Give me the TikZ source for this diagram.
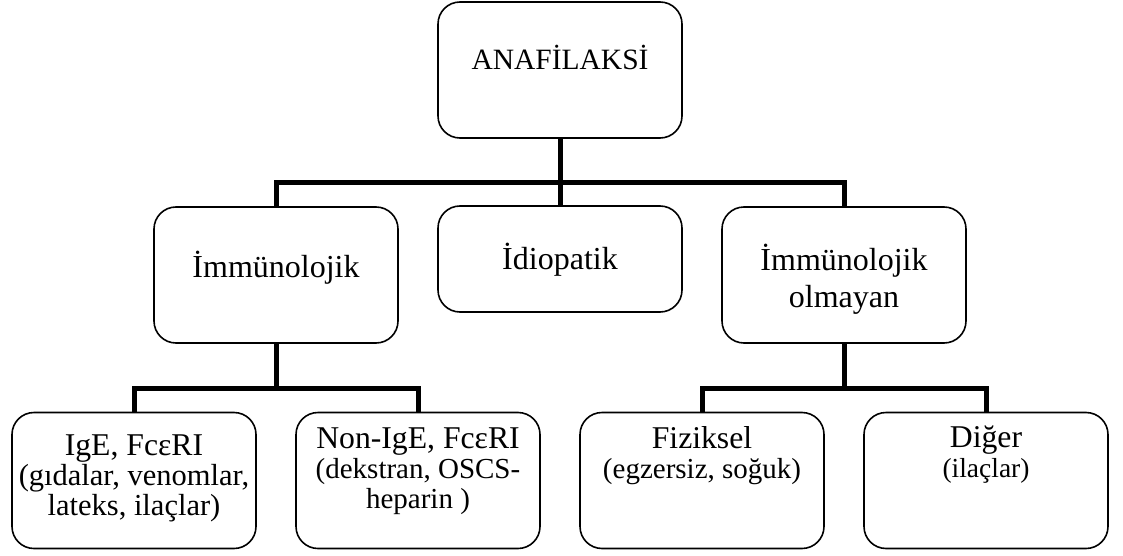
\documentclass[tikz,border=0pt]{standalone}
\usepackage{fontspec}
\setmainfont{Liberation Serif}
\usetikzlibrary{positioning}
\newcommand{\headline}[2][31.7]{{\fontsize{#1}{30}\selectfont #2}}

\begin{document}
\begin{tikzpicture}[x=1pt, y=-1pt,
    box/.style={draw, line width=1.6pt, rounded corners=22pt, minimum width=244pt, minimum height=136pt, inner sep=0pt},
    link/.style={line width=5pt},
    txt/.style={align=center, inner sep=0pt, anchor=base, font=\fontsize{32}{37}\selectfont},
    subtxt/.style={txt, font=\fontsize{#1}{30}\selectfont}]
    \useasboundingbox (0,0) rectangle (1123,556);
    % boxes
    \node[box] (ana) at (560,70) {};
    \node[box] (imm) at (276,275) {};
    \node[box, minimum height=106pt] (idio) at (560,259) {};
    \node[box] (nonimm) at (844,275) {};
    \node[box] (ige) at (134,480.5) {};
    \node[box] (nonige) at (418,480.5) {};
    \node[box] (fiz) at (702,480.5) {};
    \node[box] (diger) at (986,480.5) {};
    % texts (anchored at the last baseline)
    \node[txt, font=\fontsize{29.5}{35}\selectfont] (ana-t) at (560,70) {ANAFİLAKSİ};
    \node[txt] (imm-t) at (276,277) {İmmünolojik};
    \node[txt] (idio-t) at (560,269) {İdiopatik};
    \node[txt] (nonimm-t) at (844,307) {İmmünolojik\\olmayan};
    \node[subtxt=30.5] (ige-t) at (134,515) {\headline{IgE, FcεRI}\\(gıdalar, venomlar,\\lateks, ilaçlar)};
    \node[subtxt=29] (nonige-t) at (418,508) {\headline{Non-IgE, FcεRI}\\(dekstran, OSCS-\\heparin )};
    \node[subtxt=29] (fiz-t) at (702,478) {\headline{Fiziksel}\\(egzersiz, soğuk)};
    \node[subtxt=27.5] (diger-t) at (986,477) {\headline{Diğer}\\(ilaçlar)};
    % connectors
    \draw[link] (ana.south) -- ++(0,44) coordinate (top);
    \draw[link] (top) -| (imm.north);
    \draw[link] (top) -| (nonimm.north);
    \draw[link] (top) -- (idio.north);
    \draw[link] (imm.south) -- ++(0,45) coordinate (j1);
    \draw[link] (j1) -| (ige.north);
    \draw[link] (j1) -| (nonige.north);
    \draw[link] (nonimm.south) -- ++(0,45) coordinate (j2);
    \draw[link] (j2) -| (fiz.north);
    \draw[link] (j2) -| (diger.north);
\end{tikzpicture}
\end{document}
